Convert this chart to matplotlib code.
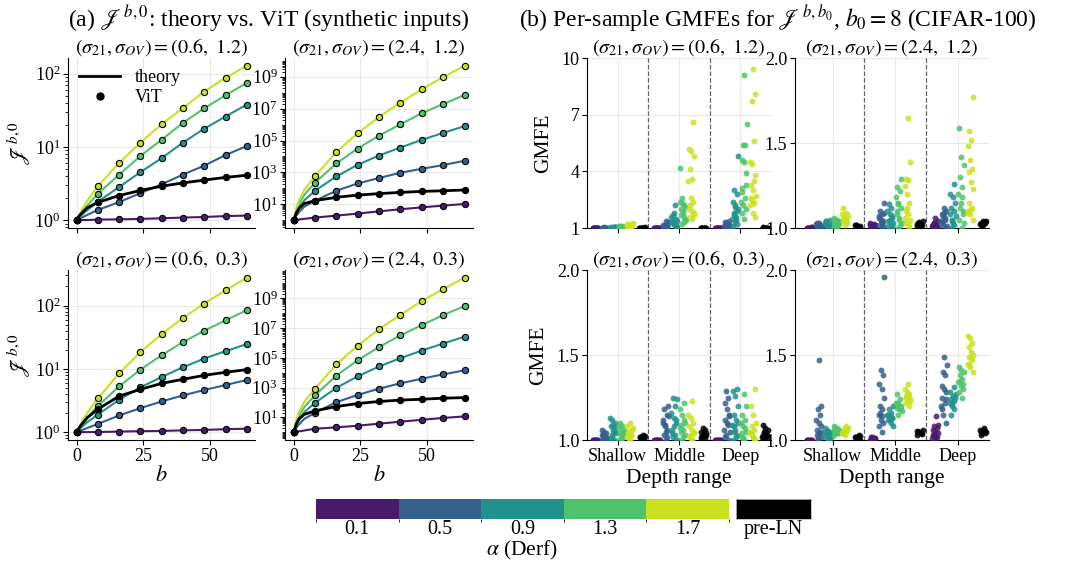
import numpy as np
import matplotlib
matplotlib.use("Agg")
import matplotlib.pyplot as plt
from matplotlib.colors import ListedColormap, BoundaryNorm
from matplotlib.cm import ScalarMappable
from matplotlib.lines import Line2D
from matplotlib.ticker import FixedLocator, LogLocator, NullFormatter

plt.rcParams['font.family'] = 'serif'
plt.rcParams['font.serif'] = ['Liberation Serif', 'DejaVu Serif']
plt.rcParams['mathtext.fontset'] = 'stix'

# ---------------- data ----------------
alphas = ['0.1', '0.5', '0.9', '1.3', '1.7']
series_names = alphas + ['pre-LN']
categories = ['Shallow', 'Middle', 'Deep']

# (a) log10 J^{b,0}, order: alpha 0.1,0.5,0.9,1.3,1.7, pre-LN
b_vit = [0, 8, 16, 24, 32, 40, 48, 56, 64]
b_early = [1, 2, 4]   # extra points on the theory curves

logJ_06_12 = [[0, 0.009, 0.013, 0.019, 0.027, 0.037, 0.045, 0.057, 0.064],
              [0, 0.14, 0.248, 0.37, 0.492, 0.623, 0.745, 0.89, 1.012],
              [0, 0.253, 0.454, 0.656, 0.848, 1.059, 1.25, 1.415, 1.578],
              [0, 0.361, 0.623, 0.876, 1.1, 1.33, 1.527, 1.705, 1.874],
              [0, 0.464, 0.782, 1.059, 1.311, 1.532, 1.756, 1.944, 2.108],
              [0, 0.244, 0.337, 0.407, 0.464, 0.51, 0.548, 0.585, 0.614]]
early_06_12 = [[0.001, 0.002, 0.004], [0.019, 0.037, 0.073], [0.037, 0.073, 0.137],
               [0.055, 0.11, 0.2], [0.075, 0.145, 0.265], [0.06, 0.1, 0.17]]

logJ_24_12 = [[0, 0.17, 0.29, 0.42, 0.56, 0.69, 0.81, 0.92, 1.02],
              [0, 1.23, 1.85, 2.31, 2.65, 2.98, 3.23, 3.46, 3.73],
              [0, 1.85, 2.75, 3.48, 4.06, 4.56, 5.04, 5.48, 5.9],
              [0, 2.35, 3.56, 4.5, 5.31, 6.02, 6.71, 7.29, 7.85],
              [0, 2.77, 4.27, 5.46, 6.48, 7.38, 8.21, 8.98, 9.69],
              [0, 1.23, 1.44, 1.58, 1.67, 1.75, 1.81, 1.85, 1.9]]
early_24_12 = [[0.022, 0.044, 0.087], [0.28, 0.5, 0.85], [0.45, 0.78, 1.25],
               [0.6, 1.0, 1.6], [0.75, 1.25, 1.9], [0.45, 0.75, 1.05]]

logJ_06_03 = [[0, 0.004, 0.011, 0.017, 0.021, 0.031, 0.037, 0.049, 0.057],
              [0, 0.132, 0.265, 0.381, 0.487, 0.582, 0.667, 0.746, 0.825],
              [0, 0.28, 0.513, 0.709, 0.873, 1.026, 1.164, 1.28, 1.392],
              [0, 0.413, 0.725, 0.989, 1.217, 1.423, 1.603, 1.767, 1.926],
              [0, 0.534, 0.931, 1.265, 1.55, 1.804, 2.032, 2.243, 2.439],
              [0, 0.365, 0.571, 0.677, 0.772, 0.836, 0.899, 0.947, 0.989]]
early_06_03 = [[0.001, 0.002, 0.003], [0.017, 0.034, 0.067], [0.045, 0.085, 0.16],
               [0.065, 0.13, 0.235], [0.09, 0.17, 0.31], [0.07, 0.13, 0.23]]

logJ_24_03 = [[0, 0.24, 0.33, 0.44, 0.58, 0.71, 0.84, 0.96, 1.07],
              [0, 1.31, 2.02, 2.51, 2.93, 3.29, 3.6, 3.89, 4.16],
              [0, 1.98, 2.98, 3.76, 4.42, 4.98, 5.49, 5.96, 6.42],
              [0, 2.49, 3.8, 4.84, 5.73, 6.51, 7.2, 7.87, 8.47],
              [0, 2.93, 4.56, 5.82, 6.93, 7.89, 8.82, 9.62, 10.38],
              [0, 1.44, 1.73, 1.93, 2.07, 2.16, 2.22, 2.29, 2.33]]
early_24_03 = [[0.03, 0.06, 0.12], [0.3, 0.53, 0.9], [0.5, 0.85, 1.35],
               [0.65, 1.1, 1.7], [0.8, 1.35, 2.05], [0.55, 0.9, 1.2]]

# (b) per-sample GMFE, per depth range, per series
gm_06_12_shallow = [[1.0, 1.0, 1.0, 1.01, 1.0, 1.0, 1.01, 1.0, 1.0, 1.0, 1.0, 1.01],
                    [1.0, 1.01, 1.02, 1.0, 1.01, 1.03, 1.0, 1.02, 1.01, 1.0, 1.02, 1.01],
                    [1.0, 1.02, 1.04, 1.01, 1.05, 1.03, 1.0, 1.02, 1.06, 1.01, 1.03, 1.04],
                    [1.02, 1.05, 1.08, 1.03, 1.1, 1.06, 1.01, 1.04, 1.12, 1.07, 1.03, 1.05],
                    [1.05, 1.12, 1.2, 1.08, 1.25, 1.15, 1.03, 1.1, 1.18, 1.22, 1.06, 1.14],
                    [1.0, 1.01, 1.02, 1.0, 1.01, 1.03, 1.0, 1.02, 1.01, 1.0, 1.02, 1.01]]
gm_06_12_middle = [[1.0, 1.0, 1.01, 1.0, 1.0, 1.01, 1.0, 1.0, 1.0, 1.01, 1.0, 1.0],
                   [1.0, 1.05, 1.1, 1.02, 1.15, 1.2, 1.08, 1.3, 1.35, 1.03, 1.12, 1.06],
                   [1.0, 1.1, 1.3, 1.5, 1.2, 1.6, 2.2, 1.4, 1.05, 1.8, 1.25, 1.15, 1.7, 1.35],
                   [1.2, 1.5, 1.8, 2.0, 2.2, 2.6, 4.2, 1.3, 1.7, 2.1, 1.9, 2.4, 1.6, 2.3, 1.4],
                   [1.5, 1.6, 1.8, 1.9, 2.0, 2.4, 2.6, 3.5, 3.6, 4.1, 4.8, 5.1, 5.2, 6.6, 2.2, 1.7],
                   [1.0, 1.01, 1.02, 1.0, 1.01, 1.02, 1.0, 1.01, 1.02, 1.0]]
gm_06_12_deep = [[1.0, 1.0, 1.01, 1.0, 1.0, 1.01, 1.0, 1.0, 1.0, 1.01, 1.0, 1.0],
                 [1.0, 1.05, 1.1, 1.2, 1.3, 1.35, 1.15, 1.02, 1.08, 1.25, 1.12, 1.04],
                 [1.1, 1.2, 1.3, 1.5, 1.6, 1.8, 2.0, 2.2, 2.4, 2.8, 3.0, 4.8, 1.4, 1.7, 1.9, 2.1],
                 [1.5, 1.8, 2.0, 2.2, 2.4, 2.6, 3.1, 3.9, 4.5, 4.6, 5.4, 5.4, 6.5, 9.1, 2.9, 3.3],
                 [1.6, 1.8, 2.2, 2.3, 2.5, 2.7, 3.0, 3.3, 3.8, 4.4, 4.5, 5.6, 7.7, 8.1, 9.4, 2.6, 3.5],
                 [1.0, 1.01, 1.02, 1.0, 1.01, 1.02, 1.0, 1.01, 1.03, 1.0]]

gm_24_12_shallow = [[1.0, 1.0, 1.0, 1.005, 1.0, 1.0, 1.003, 1.0, 1.0, 1.0],
                    [1.0, 1.01, 1.02, 1.03, 1.005, 1.015, 1.025, 1.0, 1.02, 1.01, 1.03, 1.0],
                    [1.0, 1.01, 1.02, 1.03, 1.04, 1.05, 1.02, 1.03, 1.01, 1.04, 1.0, 1.02],
                    [1.01, 1.02, 1.03, 1.04, 1.05, 1.06, 1.03, 1.02, 1.04, 1.01, 1.05, 1.03],
                    [1.02, 1.04, 1.05, 1.06, 1.07, 1.09, 1.12, 1.03, 1.05, 1.08, 1.04, 1.06],
                    [1.0, 1.01, 1.02, 1.005, 1.015, 1.01, 1.0, 1.02]]
gm_24_12_middle = [[1.0, 1.01, 1.02, 1.03, 1.0, 1.01, 1.02, 1.0, 1.015, 1.025],
                   [1.0, 1.02, 1.04, 1.05, 1.06, 1.08, 1.1, 1.15, 1.03, 1.07, 1.01, 1.05, 1.09],
                   [1.0, 1.02, 1.04, 1.06, 1.08, 1.1, 1.12, 1.14, 1.03, 1.05, 1.01, 1.07],
                   [1.0, 1.03, 1.06, 1.1, 1.12, 1.15, 1.18, 1.22, 1.24, 1.29, 1.05, 1.08, 1.02, 1.14],
                   [1.0, 1.03, 1.05, 1.08, 1.1, 1.15, 1.2, 1.25, 1.28, 1.29, 1.39, 1.65, 1.06, 1.02, 1.12],
                   [1.01, 1.02, 1.03, 1.04, 1.02, 1.03, 1.015, 1.035, 1.025, 1.02]]
gm_24_12_deep = [[1.0, 1.01, 1.02, 1.03, 1.04, 1.06, 1.02, 1.01, 1.03, 1.0],
                 [1.0, 1.02, 1.04, 1.06, 1.08, 1.1, 1.12, 1.03, 1.05, 1.07, 1.01, 1.09],
                 [1.0, 1.02, 1.05, 1.08, 1.1, 1.12, 1.15, 1.18, 1.2, 1.26, 1.04, 1.07, 1.03],
                 [1.0, 1.05, 1.1, 1.15, 1.2, 1.24, 1.3, 1.37, 1.42, 1.59, 1.08, 1.12, 1.03, 1.18],
                 [1.05, 1.08, 1.1, 1.12, 1.15, 1.23, 1.27, 1.33, 1.35, 1.4, 1.48, 1.52, 1.57, 1.77, 1.11, 1.09],
                 [1.02, 1.03, 1.04, 1.025, 1.035, 1.03, 1.04, 1.02, 1.03, 1.035]]

gm_06_03_shallow = [[1.0, 1.0, 1.003, 1.0, 1.0, 1.002, 1.0, 1.0],
                    [1.0, 1.01, 1.02, 1.03, 1.04, 1.05, 1.06, 1.02, 1.03, 1.01, 1.04, 1.0],
                    [1.0, 1.02, 1.04, 1.06, 1.08, 1.1, 1.12, 1.13, 1.05, 1.03, 1.07, 1.09, 1.01],
                    [1.0, 1.02, 1.04, 1.06, 1.08, 1.1, 1.05, 1.03, 1.07, 1.01, 1.09, 1.04],
                    [1.0, 1.02, 1.03, 1.05, 1.07, 1.1, 1.04, 1.06, 1.01, 1.08, 1.03, 1.05],
                    [1.0, 1.01, 1.02, 1.03, 1.015, 1.025, 1.005, 1.02, 1.01, 1.0]]
gm_06_03_middle = [[1.0, 1.0, 1.002, 1.0, 1.0, 1.003, 1.0, 1.0],
                   [1.0, 1.03, 1.06, 1.09, 1.12, 1.15, 1.18, 1.2, 1.05, 1.1, 1.02, 1.08, 1.14],
                   [1.0, 1.03, 1.06, 1.1, 1.13, 1.16, 1.2, 1.25, 1.24, 1.08, 1.04, 1.12, 1.02],
                   [1.0, 1.03, 1.06, 1.09, 1.12, 1.15, 1.18, 1.22, 1.05, 1.1, 1.02, 1.07],
                   [1.0, 1.02, 1.04, 1.06, 1.08, 1.1, 1.13, 1.15, 1.23, 1.03, 1.05, 1.01],
                   [1.0, 1.01, 1.02, 1.03, 1.04, 1.05, 1.06, 1.07, 1.02, 1.03, 1.01, 1.04]]
gm_06_03_deep = [[1.0, 1.0, 1.003, 1.0, 1.0, 1.002, 1.0, 1.0],
                 [1.0, 1.03, 1.06, 1.09, 1.12, 1.15, 1.18, 1.22, 1.25, 1.29, 1.05, 1.1, 1.02, 1.14],
                 [1.0, 1.03, 1.06, 1.09, 1.12, 1.15, 1.2, 1.26, 1.29, 1.3, 1.05, 1.1, 1.02, 1.08],
                 [1.0, 1.02, 1.05, 1.08, 1.1, 1.12, 1.15, 1.2, 1.27, 1.04, 1.07, 1.01],
                 [1.0, 1.02, 1.04, 1.06, 1.08, 1.1, 1.15, 1.2, 1.3, 1.03, 1.05, 1.01],
                 [1.0, 1.01, 1.02, 1.03, 1.04, 1.05, 1.06, 1.07, 1.09, 1.03, 1.05, 1.02]]

gm_24_03_shallow = [[1.0, 1.0, 1.002, 1.0, 1.0, 1.003, 1.0, 1.0],
                    [1.0, 1.02, 1.04, 1.06, 1.08, 1.1, 1.12, 1.15, 1.18, 1.2, 1.47, 1.03, 1.05, 1.01],
                    [1.0, 1.01, 1.02, 1.03, 1.04, 1.05, 1.06, 1.07, 1.02, 1.04, 1.03, 1.05],
                    [1.03, 1.04, 1.05, 1.06, 1.07, 1.08, 1.05, 1.04, 1.06, 1.05, 1.07, 1.04],
                    [1.03, 1.04, 1.05, 1.06, 1.07, 1.08, 1.05, 1.06, 1.07, 1.04, 1.06, 1.05],
                    [1.0, 1.01, 1.02, 1.03, 1.015, 1.025, 1.01, 1.02]]
gm_24_03_middle = [[1.0, 1.01, 1.02, 1.0, 1.01, 1.015, 1.005, 1.0],
                   [1.05, 1.08, 1.1, 1.12, 1.15, 1.18, 1.2, 1.25, 1.3, 1.33, 1.38, 1.41, 1.96, 1.14, 1.16],
                   [1.08, 1.1, 1.12, 1.13, 1.14, 1.15, 1.16, 1.18, 1.2, 1.12, 1.15, 1.13],
                   [1.15, 1.17, 1.18, 1.19, 1.2, 1.21, 1.22, 1.24, 1.27, 1.18, 1.2, 1.22],
                   [1.2, 1.22, 1.24, 1.25, 1.26, 1.27, 1.28, 1.3, 1.33, 1.25, 1.23, 1.27],
                   [1.03, 1.04, 1.05, 1.06, 1.04, 1.05, 1.035, 1.045, 1.055, 1.05]]
gm_24_03_deep = [[1.0, 1.01, 1.02, 1.03, 1.04, 1.05, 1.06, 1.07, 1.08, 1.09, 1.14, 1.03, 1.02],
                 [1.1, 1.15, 1.2, 1.22, 1.25, 1.28, 1.3, 1.32, 1.38, 1.4, 1.44, 1.49, 1.18, 1.24],
                 [1.15, 1.18, 1.2, 1.22, 1.23, 1.24, 1.25, 1.26, 1.28, 1.31, 1.21, 1.27],
                 [1.25, 1.28, 1.3, 1.32, 1.34, 1.36, 1.38, 1.4, 1.41, 1.43, 1.33, 1.35],
                 [1.4, 1.43, 1.45, 1.47, 1.49, 1.5, 1.52, 1.55, 1.57, 1.6, 1.61, 1.48, 1.44],
                 [1.03, 1.04, 1.05, 1.06, 1.07, 1.04, 1.05, 1.06, 1.045, 1.055]]

# ---------------- style ----------------
cmap = plt.get_cmap('viridis')
colors = [cmap(v) for v in [0.07, 0.3, 0.5, 0.72, 0.92]] + ['k']
group_off = [-0.36, -0.22, -0.08, 0.06, 0.2, 0.4]
FS = 13      # tick labels
TFS = 14.5   # panel titles
LFS = 15.5   # axis labels


def style_ax(ax):
    for s in ['top', 'right']:
        ax.spines[s].set_visible(False)
    for s in ['left', 'bottom']:
        ax.spines[s].set_linewidth(0.8)
    ax.grid(True, which='major', color='#e8e8e8', lw=0.8)
    ax.set_axisbelow(True)
    ax.tick_params(which='major', length=3.5, width=0.8, labelsize=FS, pad=2)
    ax.tick_params(which='minor', length=2, width=0.6)


def sig_title(s21, sov):
    return r'$(\sigma_{21}, \sigma_{OV}) = (%s,\ %s)$' % (s21, sov)


def draw_theory(ax, logvit, early, big):
    b_th = [0] + b_early + b_vit[1:]
    for i in range(6):
        th = [logvit[i][0]] + early[i] + logvit[i][1:]
        lw = 2 if i == 5 else 1.5
        ax.plot(b_th, 10 ** np.array(th), color=colors[i], lw=lw, zorder=2)
        ax.plot(b_vit, 10 ** np.array(logvit[i]), 'o', ms=4.5, mfc=colors[i],
                mec='k', mew=0.8, zorder=3)
    ax.set_yscale('log')
    ax.set_xticks([0, 25, 50])
    if big:
        ax.yaxis.set_major_locator(FixedLocator([1e1, 1e3, 1e5, 1e7, 1e9]))
        ax.yaxis.set_minor_locator(LogLocator(base=10, subs=np.arange(1, 10) * 1.0, numticks=200))
        ax.yaxis.set_minor_formatter(NullFormatter())
    style_ax(ax)


def draw_gmfe(ax, cats):
    for c, groups in enumerate(cats):
        for g, vals in enumerate(groups):
            n = len(vals)
            jit = ((np.arange(n) * 0.618034 + 0.37 * g + 0.21 * c) % 1 - 0.5) * 0.1
            ax.scatter(c + group_off[g] + jit, vals, s=18, color=colors[g],
                       alpha=0.85, lw=0, zorder=3)
    for xv in [0.5, 1.5]:
        ax.axvline(xv, color='#666666', ls='--', lw=0.9, zorder=1)
    ax.set_xticks([0, 1, 2])
    style_ax(ax)


fig = plt.figure(figsize=(10.7, 5.71), dpi=100)

h = 0.2977
yb_top, yb_bot = 0.6007, 0.2294
ax_a1 = fig.add_axes([0.0636, yb_top, 0.175, h])
ax_a2 = fig.add_axes([0.2664, yb_top, 0.1757, h])
ax_a3 = fig.add_axes([0.0636, yb_bot, 0.175, h])
ax_a4 = fig.add_axes([0.2664, yb_bot, 0.1757, h])

draw_theory(ax_a1, logJ_06_12, early_06_12, False)
draw_theory(ax_a2, logJ_24_12, early_24_12, True)
draw_theory(ax_a3, logJ_06_03, early_06_03, False)
draw_theory(ax_a4, logJ_24_03, early_24_03, True)

ax_a1.set_title(sig_title('0.6', '1.2'), fontsize=TFS, pad=4)
ax_a2.set_title(sig_title('2.4', '1.2'), fontsize=TFS, pad=4)
ax_a3.set_title(sig_title('0.6', '0.3'), fontsize=TFS, pad=4)
ax_a4.set_title(sig_title('2.4', '0.3'), fontsize=TFS, pad=4)
for ax in [ax_a1, ax_a2]:
    ax.tick_params(labelbottom=False)
for ax in [ax_a1, ax_a3]:
    ax.set_ylabel(r'$\mathscr{J}^{\,b,0}$', fontsize=LFS, labelpad=2)
for ax in [ax_a3, ax_a4]:
    ax.set_xlabel(r'$b$', fontsize=16, labelpad=1)

handles = [Line2D([], [], color='k', lw=2),
           Line2D([], [], ls='none', marker='o', ms=5, color='k')]
ax_a1.legend(handles, ['theory', 'ViT'], loc='upper left', frameon=False,
             fontsize=13, handlelength=2.3, borderaxespad=0.2, labelspacing=0.2)

ax_b1 = fig.add_axes([0.5486, yb_top, 0.172, h])
ax_b2 = fig.add_axes([0.743, yb_top, 0.1813, h])
ax_b3 = fig.add_axes([0.5486, yb_bot, 0.172, h])
ax_b4 = fig.add_axes([0.743, yb_bot, 0.1813, h])

draw_gmfe(ax_b1, [gm_06_12_shallow, gm_06_12_middle, gm_06_12_deep])
draw_gmfe(ax_b2, [gm_24_12_shallow, gm_24_12_middle, gm_24_12_deep])
draw_gmfe(ax_b3, [gm_06_03_shallow, gm_06_03_middle, gm_06_03_deep])
draw_gmfe(ax_b4, [gm_24_03_shallow, gm_24_03_middle, gm_24_03_deep])

ax_b1.set_ylim(1, 10)
ax_b1.set_yticks([1, 4, 7, 10])
for ax in [ax_b2, ax_b3, ax_b4]:
    ax.set_ylim(1.0, 2.0)
    ax.set_yticks([1.0, 1.5, 2.0])
for ax in [ax_b1, ax_b3]:
    ax.set_xlim(-0.5, 2.5)
    ax.set_ylabel('GMFE', fontsize=LFS, labelpad=6)
for ax in [ax_b2, ax_b4]:
    ax.set_xlim(-0.6, 2.5)
for ax in [ax_b1, ax_b2]:
    ax.tick_params(labelbottom=False)
for ax in [ax_b3, ax_b4]:
    ax.set_xticklabels(categories)
    ax.set_xlabel('Depth range', fontsize=LFS, labelpad=3)

ax_b1.set_title(sig_title('0.6', '1.2'), fontsize=TFS, pad=4)
ax_b2.set_title(sig_title('2.4', '1.2'), fontsize=TFS, pad=4)
ax_b3.set_title(sig_title('0.6', '0.3'), fontsize=TFS, pad=4)
ax_b4.set_title(sig_title('2.4', '0.3'), fontsize=TFS, pad=4)

fig.text(0.2514, 0.968, r'(a) $\mathscr{J}^{\,b,0}$: theory vs. ViT (synthetic inputs)',
         ha='center', va='center', fontsize=17)
fig.text(0.727, 0.968,
         r'(b) Per-sample GMFEs for $\mathscr{J}^{\,b,b_0}$, $b_0 = 8$ (CIFAR-100)',
         ha='center', va='center', fontsize=17)

# discrete colour bar for alpha + a black box for pre-LN
cax = fig.add_axes([0.2953, 0.0911, 0.386, 0.035])
norm = BoundaryNorm(np.arange(6) - 0.5, 5)
sm = ScalarMappable(norm=norm, cmap=ListedColormap(colors[:5]))
cb = fig.colorbar(sm, cax=cax, orientation='horizontal', ticks=range(5))
cb.set_ticklabels(alphas)
cb.outline.set_visible(False)
cax.tick_params(length=0, labelsize=14.5, pad=1)
cb.set_label(r'$\alpha$ (Derf)', fontsize=15.5, labelpad=0)

kax = fig.add_axes([0.6879, 0.0911, 0.0701, 0.035])
kax.set_facecolor('k')
kax.set_xticks([0.5])
kax.set_xticklabels(['pre-LN'])
kax.set_xlim(0, 1)
kax.set_yticks([])
kax.tick_params(length=0, labelsize=14.5, pad=1)
for s in kax.spines.values():
    s.set_color('#bbbbbb')
    s.set_linewidth(0.6)

fig.savefig('out.png', dpi=100)
